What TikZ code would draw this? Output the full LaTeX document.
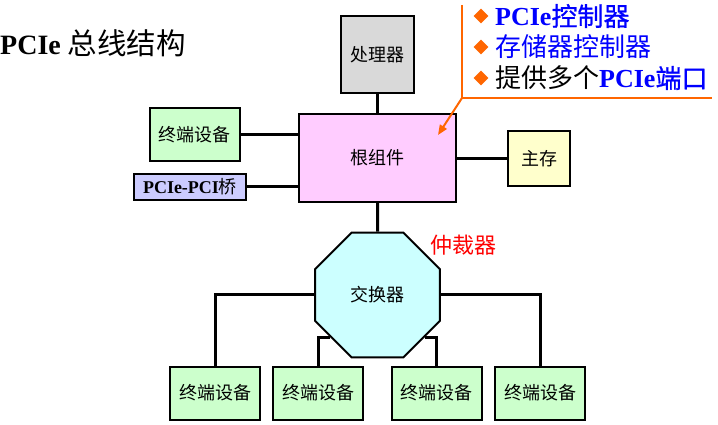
\documentclass[tikz,border=0pt]{standalone}
\usepackage{fontspec}
\setmainfont{Liberation Serif}
\newfontfamily\cjk{Noto Sans CJK SC}
\newfontfamily\cjkb[FakeBold=0.8]{Noto Sans CJK SC}
\usetikzlibrary{arrows.meta,shapes.geometric}
\definecolor{cpugray}{RGB}{217,217,217}
\definecolor{rootpink}{RGB}{255,204,255}
\definecolor{devgreen}{RGB}{204,255,204}
\definecolor{bridgeblue}{RGB}{204,204,255}
\definecolor{memyellow}{RGB}{255,255,204}
\definecolor{swcyan}{RGB}{204,255,255}
\definecolor{callorange}{RGB}{255,102,0}
\definecolor{textblue}{RGB}{0,0,255}
\definecolor{arbred}{RGB}{255,0,0}

\begin{document}
\begin{tikzpicture}[x=1pt, y=-1pt,
  unit/.style={rectangle, draw=black, line width=2pt, fill=#1, inner sep=0pt,
               align=center, font=\cjk\fontsize{18}{20}\selectfont},
  dev/.style={unit=devgreen, minimum width=90pt, minimum height=53pt},
  link/.style={line width=3pt, black},
  bullet/.style={diamond, fill=callorange, inner sep=0pt, minimum size=15pt},
  item/.style={anchor=west, inner sep=0pt, font=\fontsize{26}{28}\selectfont},
  callout/.style={line width=2pt, callorange}
]
\useasboundingbox (0,0) rectangle (718,425);

% Title
\node[anchor=west, inner sep=0pt, font=\fontsize{28}{30}\selectfont] (title) at (0,43)
  {\textbf{PCIe} {\cjk\fontsize{29.5}{30}\selectfont 总线结构}};

% Upper part: processor, root complex and its neighbours
\node[unit=cpugray, minimum width=73pt, minimum height=77pt] (cpu) at (377.5,54.5) {处理器};
\node[unit=rootpink, minimum width=157pt, minimum height=88pt] (rc) at (377.5,158) {根组件};
\node[dev] (dev0) at (194.5,135) {终端设备};
\node[unit=bridgeblue, minimum width=112pt, minimum height=26pt] (br) at (190,187)
  {{\rmfamily\bfseries PCIe-PCI}桥};
\node[unit=memyellow, minimum width=62pt, minimum height=55pt] (mem) at (539,158.5) {主存};

\draw[link] (cpu.south) -- (rc.north);
\draw[link] (dev0.east) -- (dev0.east -| rc.west);
\draw[link] (br.east) -- (br.east -| rc.west);
\draw[link] (mem.west) -- (mem.west -| rc.east);

% Switch and end points
\node[regular polygon, regular polygon sides=8, minimum size=135pt, draw=black,
      line width=2pt, fill=swcyan, inner sep=0pt,
      font=\cjk\fontsize{18}{20}\selectfont] (sw) at (377.5,295) {交换器};
\node[text=arbred, inner sep=0pt, font=\cjk\fontsize{22}{24}\selectfont] (arb) at (463,245) {仲裁器};

\node[dev] (t1) at (215,393)   {终端设备};
\node[dev] (t2) at (318,393)   {终端设备};
\node[dev] (t3) at (436.5,393) {终端设备};
\node[dev] (t4) at (540,393)   {终端设备};

\draw[link] (rc.south) -- (sw.north);
\draw[link] (sw.west) -| (t1.north);
\draw[link] (sw.222) -| (t2.north);
\draw[link] (sw.318) -| (t3.north);
\draw[link] (sw.east) -| (t4.north);

% Callout: what the root complex holds
\coordinate (ctop) at (462,5);
\coordinate (cknee) at (462,98);
\coordinate (cend) at (712,98);
\coordinate (ctip) at (438,135);
\draw[callout] (ctop) -- (cknee) -- (cend);
\draw[callout, -{Triangle[length=10pt,width=8pt]}] (cknee) -- (ctip);

\node[bullet] (b1) at (481,16) {};
\node[bullet] (b2) at (481,47) {};
\node[bullet] (b3) at (481,78) {};
\node[item, text=textblue] (i1) at (495,16) {\textbf{PCIe}{\cjkb 控制器}};
\node[item, text=textblue] (i2) at (495,47) {\cjk 存储器控制器};
\node[item] (i3) at (495,78) {{\cjk 提供多个}\textcolor{textblue}{\textbf{PCIe}{\cjkb 端口}}};
\end{tikzpicture}
\end{document}
